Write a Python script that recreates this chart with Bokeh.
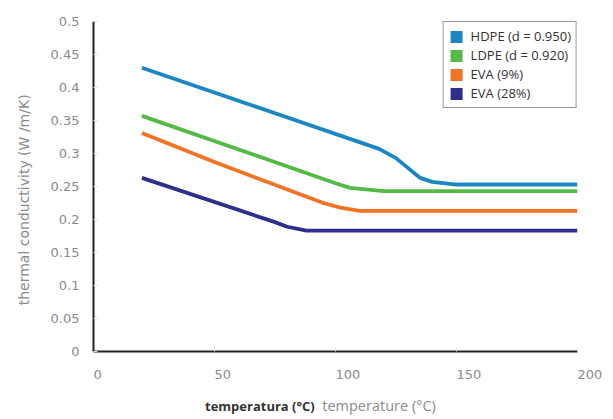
from bokeh.plotting import figure
from bokeh.models import (Range1d, FixedTicker, NumeralTickFormatter, Legend, LegendItem, Div)
from bokeh.layouts import column
from bokeh.embed import file_html
from bokeh.resources import INLINE

# ---- data ----
series_names = ["HDPE (d = 0.950)", "LDPE (d = 0.920)", "EVA (9%)", "EVA (28%)"]
series_colors = ["#1a86c4", "#55b947", "#f37324", "#2e2e8c"]

temp_hdpe = [20, 118, 125, 135, 140, 150, 200]
k_hdpe = [0.430, 0.307, 0.293, 0.263, 0.257, 0.253, 0.253]

temp_ldpe = [20, 100, 106, 120, 200]
k_ldpe = [0.357, 0.255, 0.248, 0.243, 0.243]

temp_eva9 = [20, 50, 95, 102, 110, 200]
k_eva9 = [0.331, 0.287, 0.225, 0.218, 0.213, 0.213]

temp_eva28 = [20, 75, 80, 88, 200]
k_eva28 = [0.263, 0.196, 0.189, 0.183, 0.183]

x_ticks = [0, 50, 100, 150, 200]
x_tick_labels = ["0", "50", "100", "150", "200"]
y_ticks = [0, 0.05, 0.1, 0.15, 0.2, 0.25, 0.3, 0.35, 0.4, 0.45, 0.5]

x_title_bold = "temperatura (°C)"
x_title_plain = "temperature (°C)"
y_title = "thermal conductivity (W /m/K)"

FONT = "Open Sans"
TICK_FONT = "DejaVu Sans"
GRAY = "#8a8a8a"
DARK = "#333333"

p = figure(width=605, height=395, output_backend="svg", toolbar_location=None,
           x_range=Range1d(0, 200), y_range=Range1d(0, 0.5),
           min_border_left=93, min_border_right=28, min_border_top=21, min_border_bottom=44)
p.outline_line_color = None
p.xgrid.grid_line_color = None
p.ygrid.grid_line_color = None

all_series = [(temp_hdpe, k_hdpe), (temp_ldpe, k_ldpe), (temp_eva9, k_eva9), (temp_eva28, k_eva28)]
for (xs, ys), c in zip(all_series, series_colors):
    p.line(xs, ys, line_color=c, line_width=3.8)

# legend swatches (square patches, no data drawn)
items = []
for name, c in zip(series_names, series_colors):
    r = p.quad(left=[float("nan")], right=[float("nan")], top=[float("nan")], bottom=[float("nan")],
               fill_color=c, line_color=None)
    items.append(LegendItem(label=name, renderers=[r]))
legend = Legend(items=items, location="top_right", margin=0, padding=5, spacing=1,
                glyph_width=15, glyph_height=15, label_height=16, label_standoff=7,
                label_text_font=FONT, label_text_font_size="13px", label_text_color=DARK,
                border_line_color="#333333", border_line_width=1, background_fill_color="white",
                background_fill_alpha=1)
p.add_layout(legend)

# axes
for ax in (p.xaxis[0], p.yaxis[0]):
    ax.axis_line_color = "#222222"
    ax.axis_line_width = 2
    ax.major_tick_in = 4
    ax.major_tick_out = 0
    ax.major_tick_line_color = "#e0e0e0"
    ax.minor_tick_line_color = None
    ax.major_label_text_font = TICK_FONT
    ax.major_label_text_font_size = "13px"
    ax.major_label_text_color = GRAY

p.xaxis.ticker = FixedTicker(ticks=x_ticks)
p.xaxis.major_label_standoff = 15
# labels start at their tick (left aligned): pad each with figure spaces
p.xaxis.major_label_overrides = {t: "\u2007" * len(s) + s for t, s in zip(x_ticks, x_tick_labels)}

p.yaxis.ticker = FixedTicker(ticks=y_ticks)
p.yaxis.formatter = NumeralTickFormatter(format="0.[00]")
p.yaxis.major_label_standoff = 14
p.yaxis.axis_label = y_title + "\u00a0" * 6
p.yaxis.axis_label_text_font = TICK_FONT
p.yaxis.axis_label_text_font_size = "14px"
p.yaxis.axis_label_text_font_style = "normal"
p.yaxis.axis_label_text_color = GRAY
p.yaxis.axis_label_standoff = 16

title_div = Div(
    text=(f'<span style="font-family:\'{FONT}\';font-weight:bold;font-size:13px;color:{DARK}">{x_title_bold}</span>'
          f'<span style="font-family:\'{FONT}\';font-size:14.5px;color:{GRAY}">&nbsp;&nbsp;{x_title_plain}</span>'),
    width=605, height=22, margin=(0, 0, 0, 0),
    styles={"padding-left": "205px", "line-height": "22px", "white-space": "nowrap"})

layout = column(p, title_div, spacing=0)
open("out.html", "w").write(file_html(layout, INLINE))
